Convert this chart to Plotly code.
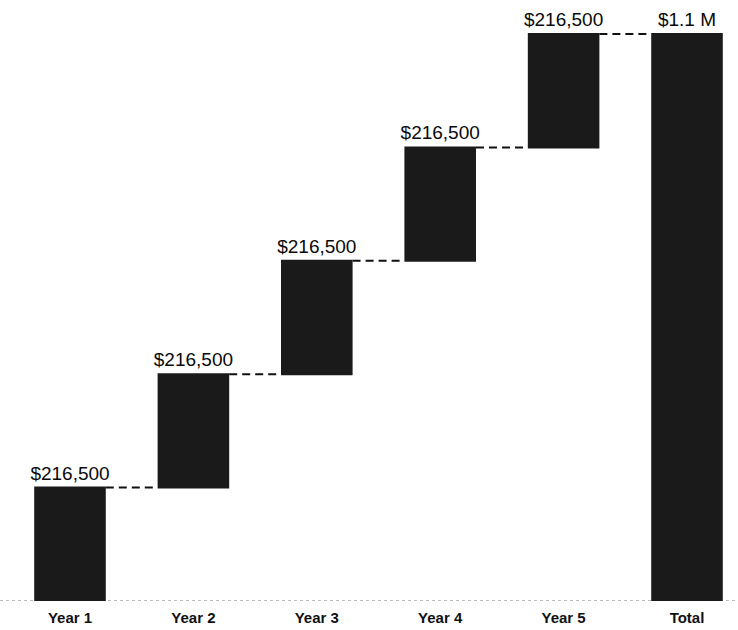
import plotly.graph_objects as go

categories = ["Year 1", "Year 2", "Year 3", "Year 4", "Year 5", "Total"]
measures = ["relative", "relative", "relative", "relative", "relative", "total"]
values = [216500, 216500, 216500, 216500, 216500, 0]
labels = ["$216,500", "$216,500", "$216,500", "$216,500", "$216,500", "$1.1 M"]

BAR = "#1a1a1a"

fig = go.Figure(
    go.Waterfall(
        x=categories,
        y=values,
        measure=measures,
        text=labels,
        textposition="outside",
        constraintext="none",
        textfont=dict(family="Liberation Sans, Arial, sans-serif", size=19, color="#0a0a0a"),
        increasing=dict(marker=dict(color=BAR, line=dict(width=0))),
        totals=dict(marker=dict(color=BAR, line=dict(width=0))),
        connector=dict(line=dict(color="#111111", width=2, dash="8px,5px")),
        cliponaxis=False,
        hoverinfo="skip",
    )
)

# dotted baseline along the category axis
fig.add_shape(type="line", xref="paper", yref="y", x0=0, x1=1, y0=0, y1=0,
              line=dict(color="#777777", width=1, dash="dot"), layer="below")

step = 123.4
left_px = 70
fig.update_layout(
    width=738, height=630,
    margin=dict(l=0, r=0, t=0, b=29),
    paper_bgcolor="white", plot_bgcolor="white",
    showlegend=False,
    waterfallgap=0.42,
    xaxis=dict(
        type="category",
        range=[-left_px / step, (738 - left_px) / step],
        showgrid=False, zeroline=False, showline=False, ticks="",
        ticklabelstandoff=6,
        tickfont=dict(family="Liberation Sans, Arial, sans-serif", size=15, color="#111111", weight="bold"),
    ),
    yaxis=dict(
        range=[0, 1082500 * 601 / 567],
        visible=False, showgrid=False, zeroline=False,
    ),
)

fig.write_html("out.html")
